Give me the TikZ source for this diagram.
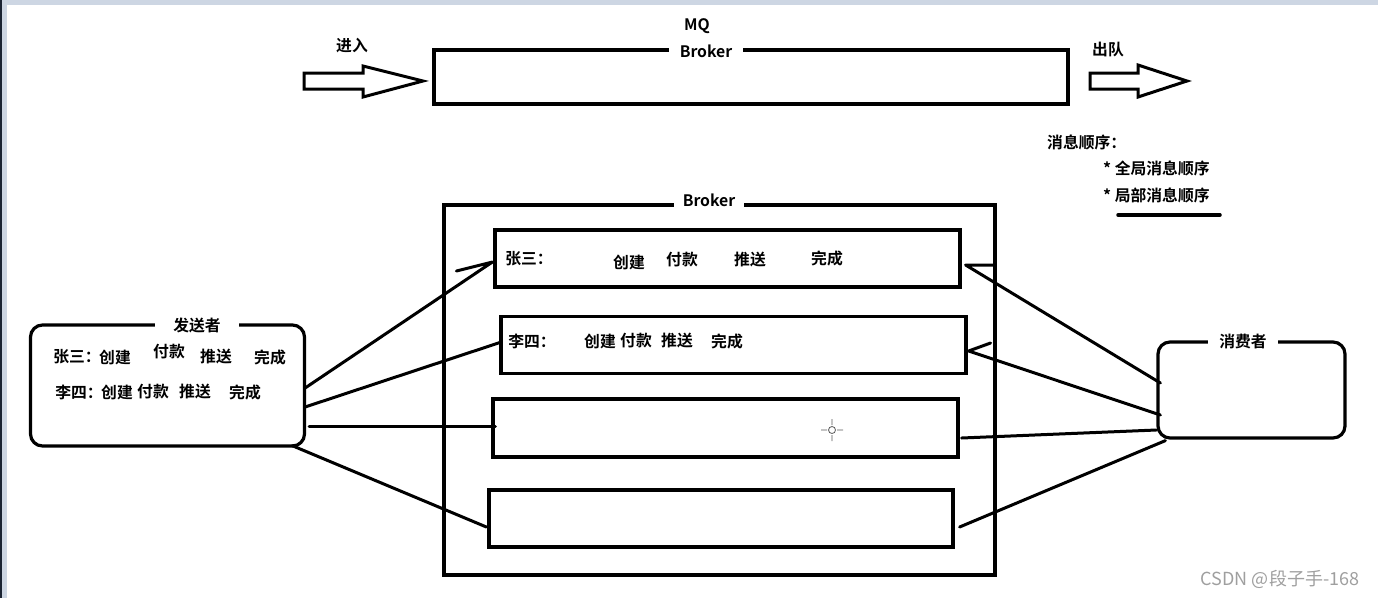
\documentclass[tikz,border=0pt]{standalone}
\usepackage{fontspec}
\setmainfont{Noto Sans CJK SC}[BoldFont={Noto Sans CJK SC Bold}]
\usetikzlibrary{calc}

\definecolor{winedge}{HTML}{CDD6E3}
\definecolor{winframe}{HTML}{1B2433}

\tikzset{
  queue/.style={draw, line width=3.2pt, minimum width=465pt, minimum height=57pt, inner sep=0pt},
  party/.style={draw, line width=3.2pt, rounded corners=12pt, inner sep=0pt},
  title/.style={fill=white, inner ysep=1pt, font=\fontsize{15.8}{18}\selectfont\bfseries},
  txt/.style={inner sep=0pt, font=\fontsize{15.8}{18}\selectfont\bfseries},
  link/.style={line width=3pt, line cap=round, line join=round},
  hollow/.style={draw, line width=3pt, line join=miter},
}

\begin{document}
\begin{tikzpicture}[x=1pt, y=-1pt]
    \useasboundingbox (0,0) rectangle (1378,598);
    \fill[winedge] (0,0) rectangle (1378,5);
    \fill[winedge] (0,0) rectangle (7,598);
    \fill[winframe] (0,0) rectangle (2.3,598);

    % MQ at the top
    \node[draw, line width=3.2pt, minimum width=634pt, minimum height=54pt, inner sep=0pt] (mq) at (751,77) {};
    \node[title, inner xsep=11pt] (mqbroker) at (706,51) {Broker};
    \node[txt] (mqname) at (697,26) {MQ};

    \draw[hollow] (304,73) -- (363,73) -- (363,66) -- (423,81) -- (363,97) -- (363,89) -- (304,89) -- cycle;
    \node[txt] (enter) at (352,46) {进入};
    \draw[hollow] (1090,73) -- (1138,73) -- (1138,65) -- (1187,81) -- (1138,97) -- (1138,89) -- (1090,89) -- cycle;
    \node[txt] (leave) at (1108,50) {出队};

    \node[txt, anchor=west] (order) at (1047,142) {消息顺序：};
    \node[txt, anchor=west] (global) at (1103,168) {* 全局消息顺序};
    \node[txt, anchor=west] (local) at (1103,195) {* 局部消息顺序};
    \draw[line width=3.5pt, line cap=round] (1118,215) -- (1220,215);

    % broker with four queues
    \node[draw, line width=3.2pt, minimum width=551pt, minimum height=370pt, inner sep=0pt] (broker) at (719.5,390) {};
    \node[title, inner xsep=9pt] (brokername) at (709,200) {Broker};

    \node[queue] (q1) at (727.5,258.5) {};
    \node[queue] (q2) at (733.5,345) {};
    \node[queue, minimum height=58pt] (q3) at (725.5,428) {};
    \node[queue, minimum width=464pt] (q4) at (721,518.5) {};

    \node[txt] at (529,259) {张三：};
    \node[txt] at (629,262) {创建};
    \node[txt] at (682,260) {付款};
    \node[txt] at (750,260) {推送};
    \node[txt] at (827,258) {完成};

    \node[txt] at (532,341) {李四：};
    \node[txt] at (600,341) {创建};
    \node[txt] at (636,341) {付款};
    \node[txt] at (677,341) {推送};
    \node[txt] at (727,341) {完成};

    % cursor left in the screenshot
    \draw[gray!70!black, line width=0.8pt] (832,430) circle (3.5)
        (821,430) -- (827,430) (837,430) -- (843,430)
        (832,419) -- (832,425) (832,435) -- (832,441);

    % sender
    \node[party, minimum width=274pt, minimum height=121pt] (sender) at (167.5,385.5) {};
    \node[title, inner xsep=18pt] (sendername) at (197,325) {发送者};
    \node[txt] at (77,357) {张三：};
    \node[txt] at (115,357) {创建};
    \node[txt] at (169,352) {付款};
    \node[txt] at (216,357) {推送};
    \node[txt] at (270,357) {完成};
    \node[txt] at (79,392) {李四：};
    \node[txt] at (117,392) {创建};
    \node[txt] at (153,392) {付款};
    \node[txt] at (195,392) {推送};
    \node[txt] at (245,392) {完成};

    % consumer
    \node[party, minimum width=187pt, minimum height=96pt] (consumer) at (1251.5,390) {};
    \node[title, inner xsep=11pt] (consumername) at (1243,341) {消费者};

    % sender to queues
    \draw[link] ($(sender.east)+(-1,2.5)$) -- ($(q1.west)+(-1,3.5)$) -- ++(-36,9);
    \draw[link] ($(sender.east)+(-1,21.5)$) -- ($(q2.west)+(2,-3)$);
    \draw[link] ($(sender.east)+(3,40.5)$) -- ($(q3.west)+(4,-2)$);
    \draw[link] ($(sender.south east)+(-14,-2)$) -- ($(q4.west)+(-1,8.5)$);

    % queues to consumer
    \draw[link] ($(consumer.west)+(4,-7)$) -- ($(q1.east)+(4,6.5)$) -- ++(28,0);
    \draw[link] ($(consumer.west)+(4,25)$) -- ($(q2.east)+(1,6)$) -- ++(22,-8);
    \draw[link] ($(consumer.west)+(0,40)$) -- ($(q3.east)+(2,10)$);
    \draw[link] ($(consumer.south west)+(9,1)$) -- ($(q4.east)+(5,8.5)$);

    \node[text=gray!75, font=\fontsize{18}{20}\selectfont] (mark) at (1280,579) {CSDN @段子手-168};
\end{tikzpicture}
\end{document}
